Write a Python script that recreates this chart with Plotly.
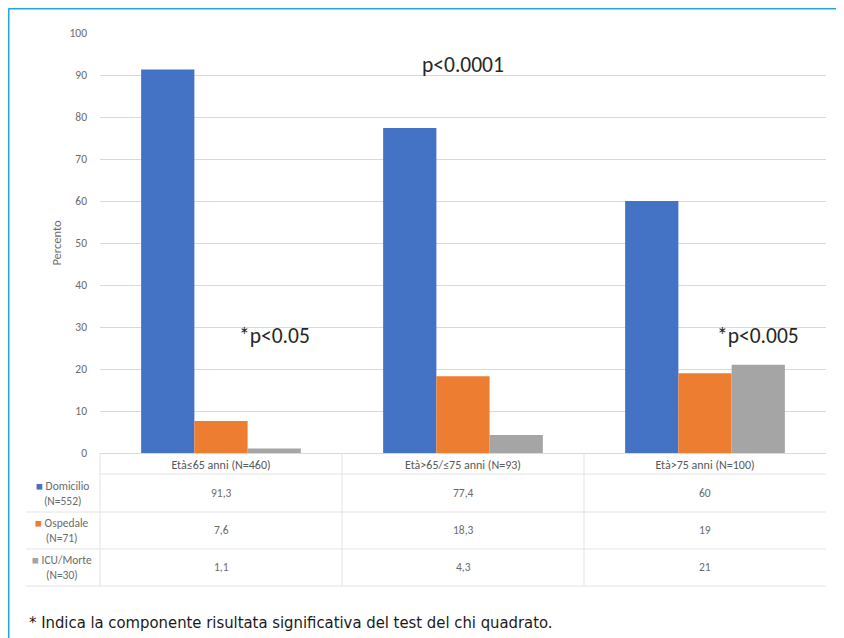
import plotly.graph_objects as go

# data
categories = ["Età≤65 anni (N=460)", "Età>65/≤75 anni (N=93)", "Età>75 anni (N=100)"]
series_names = ["Domicilio", "Ospedale", "ICU/Morte"]
series_n = ["(N=552)", "(N=71)", "(N=30)"]
domicilio = [91.3, 77.4, 60]
ospedale = [7.6, 18.3, 19]
icu_morte = [1.1, 4.3, 21]
value_labels = [["91,3", "77,4", "60"], ["7,6", "18,3", "19"], ["1,1", "4,3", "21"]]
colors = ["#4472C4", "#ED7D31", "#A5A5A5"]

# the page body adds an 8px margin, so the figure is sized to fit the window
OFF = 8
W, H = 844 - OFF, 638 - OFF
L, R, T = 100 - OFF, 18, 33 - OFF
B = H - T - 420
pw, ph = W - L - R, H - T - B


def px_x(x):  # page pixel -> paper x
    return (x - OFF - L) / pw


def px_y(y):  # page pixel -> paper y
    return (H - B - (y - OFF)) / ph


fig = go.Figure()
for name, vals, col in zip(series_names, [domicilio, ospedale, icu_morte], colors):
    fig.add_trace(go.Bar(x=categories, y=vals, name=name, marker=dict(color=col, line=dict(width=0))))

grid = "#D9D9D9"
txt = "#595959"
font_fam = "Carlito, Lato, 'Open Sans', sans-serif"

fig.update_layout(
    width=W, height=H,
    margin=dict(l=L, r=R, t=T, b=B),
    barmode="group", bargap=0.34, bargroupgap=0,
    showlegend=False,
    plot_bgcolor="white", paper_bgcolor="white",
    font=dict(family=font_fam, size=11, color=txt),
)
fig.update_yaxes(range=[0, 100], dtick=10, showgrid=True, gridcolor=grid, gridwidth=1,
                 zeroline=False, showline=False, ticks="",
                 tickfont=dict(size=11.5, color="#6b6b6b"), ticklabelstandoff=12,
                 title=dict(text="Percento", font=dict(size=12.5, color="#6b6b6b"), standoff=5))
fig.update_xaxes(showline=True, linecolor=grid, ticks="", tickfont=dict(size=12, color=txt),
                 ticklabelstandoff=1)

shapes = []
line = dict(color="#E3E3E3", width=1)
# table horizontal rules
shapes.append(dict(type="line", xref="paper", yref="paper", x0=0, x1=1,
                   y0=px_y(474), y1=px_y(474), line=line))
for yy in [512, 549, 586]:
    shapes.append(dict(type="line", xref="paper", yref="paper", x0=px_x(26), x1=1,
                       y0=px_y(yy), y1=px_y(yy), line=line))
# table vertical rules
for xx in [0, 1 / 3, 2 / 3]:
    shapes.append(dict(type="line", xref="paper", yref="paper", x0=xx, x1=xx,
                       y0=0, y1=px_y(586), line=line))
# frame (cyan), left and top
frame = dict(color="#22A7DA", width=2)
shapes.append(dict(type="line", xref="paper", yref="paper", x0=px_x(8.5), x1=px_x(844),
                   y0=px_y(8.5), y1=px_y(8.5), line=frame))
shapes.append(dict(type="line", xref="paper", yref="paper", x0=px_x(8.5), x1=px_x(8.5),
                   y0=px_y(8.5), y1=px_y(OFF + H), line=frame))
fig.update_layout(shapes=shapes)

ann = []
row_y = [493, 530, 567]
for i, (nm, n, col) in enumerate(zip(series_names, series_n, colors)):
    ann.append(dict(xref="paper", yref="paper", x=px_x(62), y=px_y(row_y[i]), showarrow=False,
                    xanchor="center", yanchor="middle",
                    text=f"<span style='color:{col}'>■</span> {nm}<br>{n}", align="center",
                    font=dict(size=11.5, color="#6b6b6b")))
    for j, cat in enumerate(categories):
        ann.append(dict(xref="x", yref="paper", x=cat, y=px_y(row_y[i]), showarrow=False,
                        xanchor="center", yanchor="middle",
                        text=value_labels[i][j], font=dict(size=11.5, color="#6b6b6b")))

big = dict(size=21.5, color="#262626", family=font_fam)
ann.append(dict(xref="x", yref="y", x=1.0, y=92.4, text="p<0.0001", showarrow=False, font=big))
ann.append(dict(xref="x", yref="y", x=0.223, y=27.8, text="*p<0.05", showarrow=False, font=big))
ann.append(dict(xref="x", yref="y", x=2.219, y=27.8, text="*p<0.005", showarrow=False, font=big))

ann.append(dict(xref="paper", yref="paper", x=px_x(27), y=px_y(622), xanchor="left", yanchor="middle",
                showarrow=False,
                text="* Indica la componente risultata significativa del test del chi quadrato.",
                font=dict(size=16.5, color="#1a1a1a",
                          family="'DejaVu Sans Condensed', 'Liberation Sans Narrow', 'DejaVu Sans'")))
fig.update_layout(annotations=ann)

fig.write_html("out.html")
